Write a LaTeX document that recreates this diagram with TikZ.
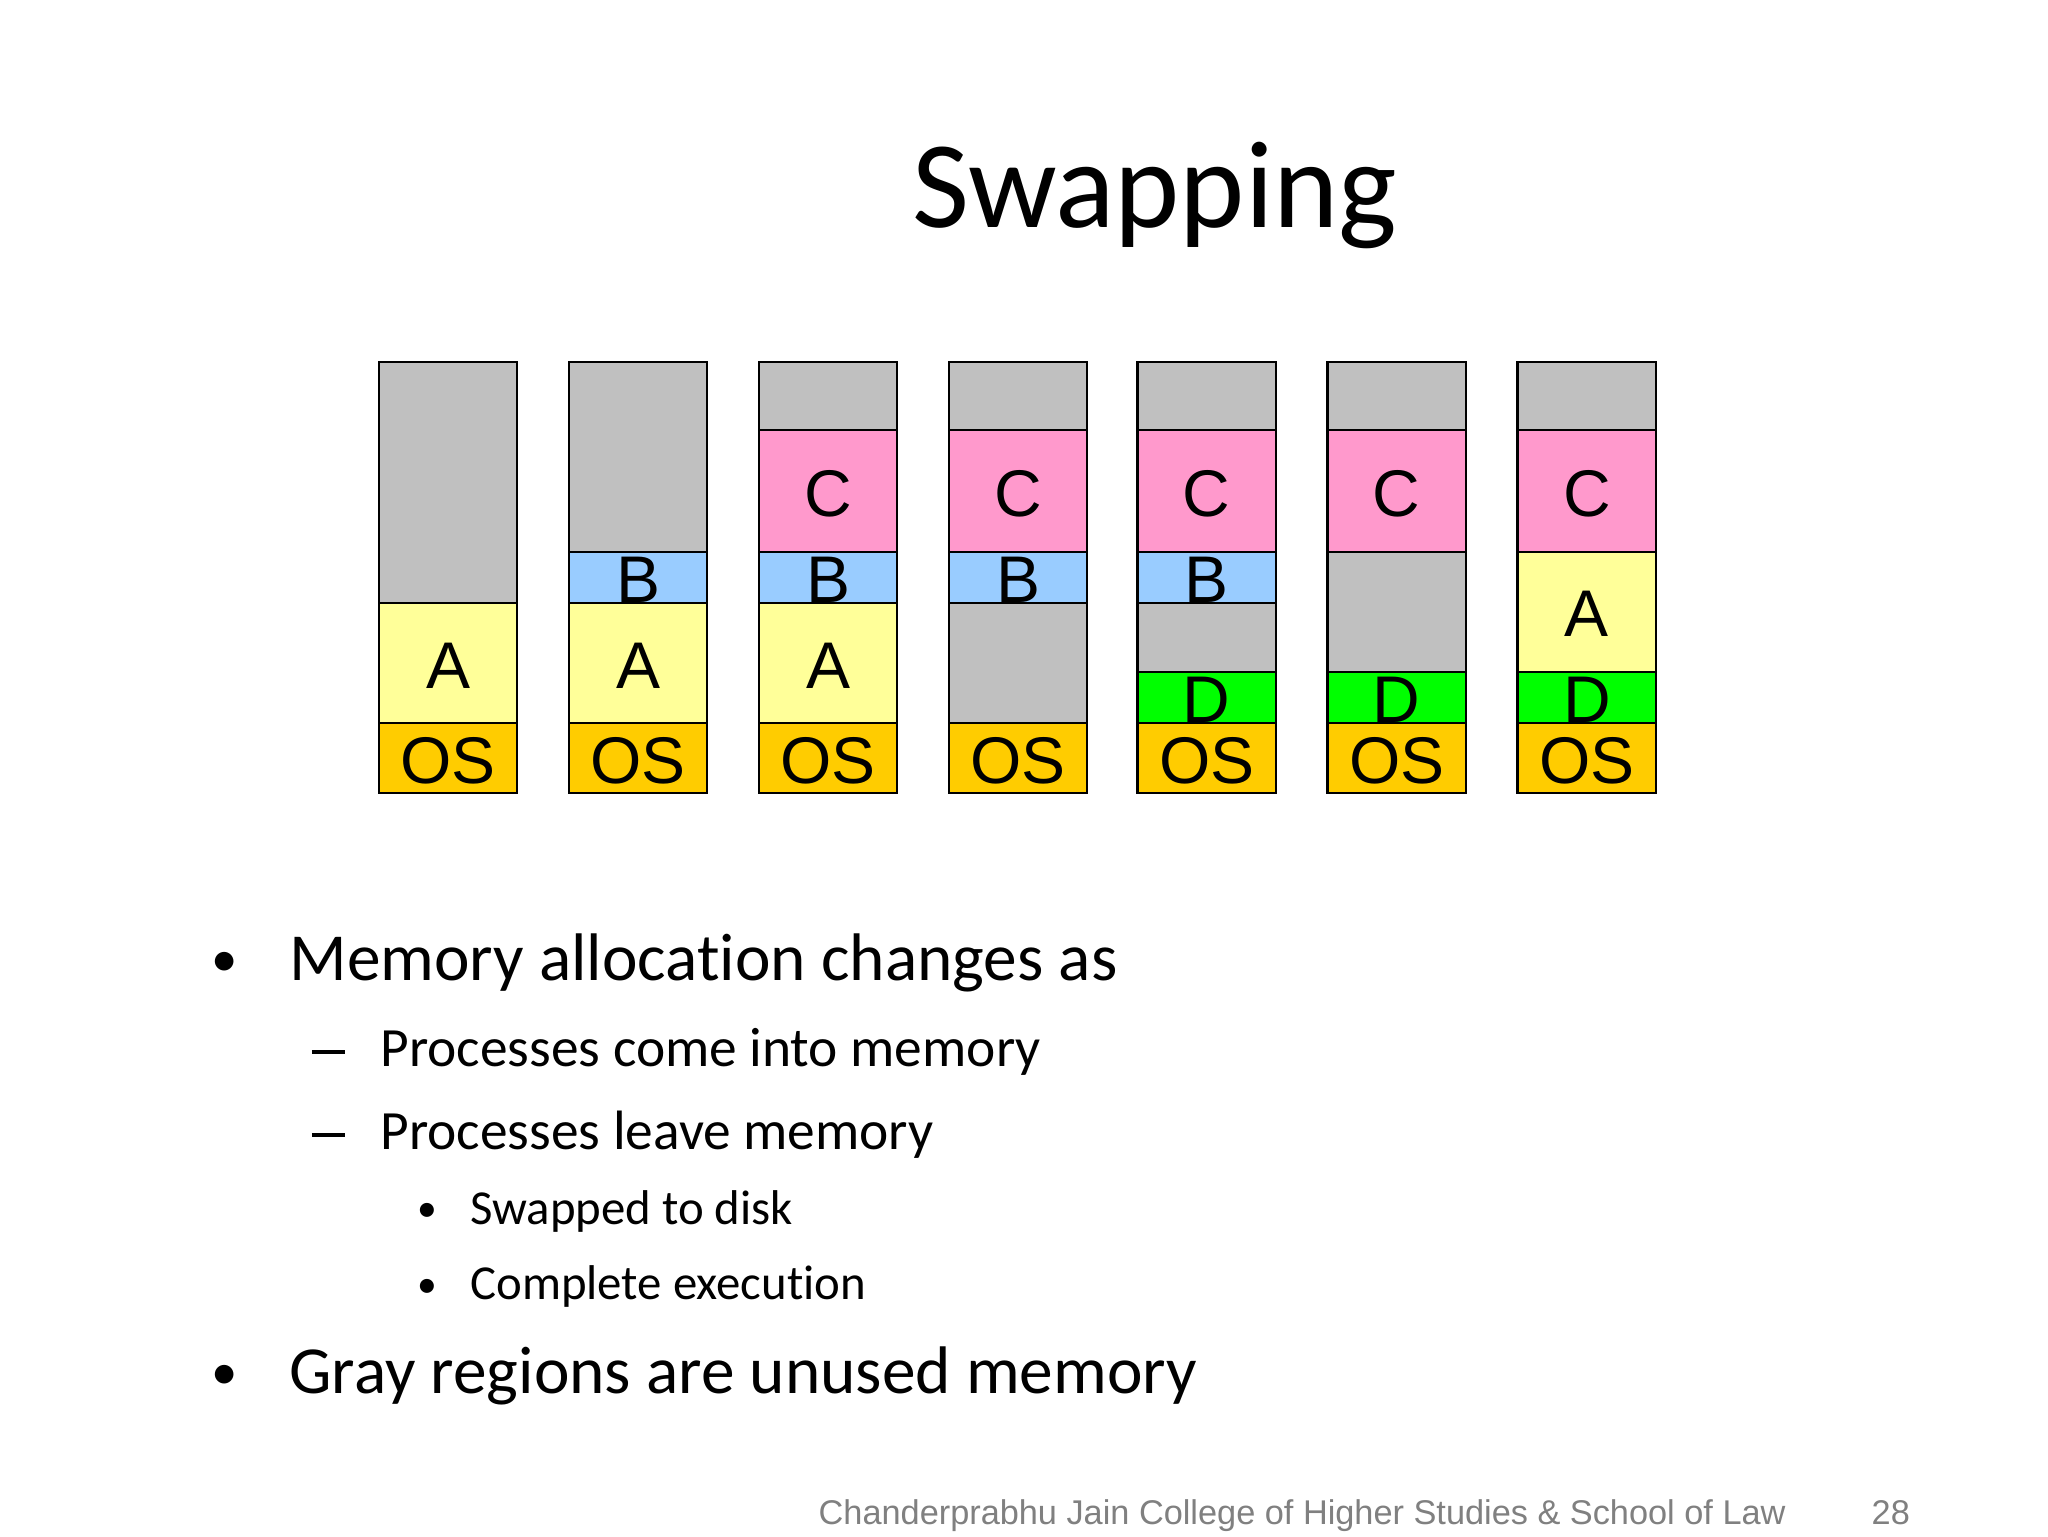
\documentclass[tikz,border=0pt]{standalone}
\usepackage{fontspec}
\setmainfont[Ligatures=CommonOff]{Carlito}
\newfontfamily\arialf{Liberation Sans}
\begin{document}
\begin{tikzpicture}[x=0.5pt,y=-0.5pt,
  mem/.style={draw=black,line width=0.8pt},
  lab/.style={font=\arialf\fontsize{25}{25}\selectfont,inner sep=0pt},
  txt/.style={anchor=base west,inner sep=0pt}]
\useasboundingbox[fill=white] (0,0) rectangle (1552,1164);
\definecolor{gr}{HTML}{C0C0C0}\definecolor{ye}{HTML}{FFFF99}
\definecolor{bl}{HTML}{99CCFF}\definecolor{pk}{HTML}{FF99CC}
\definecolor{gn}{HTML}{00FF00}\definecolor{os}{HTML}{FFCC00}
\newcommand{\seg}[5]{\fill[#4] (#1,#2) rectangle ++(105,#3-#2);
  \draw[mem] (#1,#2) rectangle ++(105,#3-#2);
  \node[lab] at (#1+52.5,{(#2+#3)/2+2}) {#5};}
\node[inner sep=0pt,font=\fontsize{47}{47}\selectfont] (title) at (875,148) {Swapping};
\seg{287}{274}{457}{gr}{}\seg{287}{457}{548}{ye}{A}\seg{287}{548}{601}{os}{OS}
\seg{431}{274}{418}{gr}{}\seg{431}{418}{457}{bl}{B}\seg{431}{457}{548}{ye}{A}\seg{431}{548}{601}{os}{OS}
\seg{575}{274}{326}{gr}{}\seg{575}{326}{418}{pk}{C}\seg{575}{418}{457}{bl}{B}\seg{575}{457}{548}{ye}{A}\seg{575}{548}{601}{os}{OS}
\seg{719}{274}{326}{gr}{}\seg{719}{326}{418}{pk}{C}\seg{719}{418}{457}{bl}{B}\seg{719}{457}{548}{gr}{}\seg{719}{548}{601}{os}{OS}
\seg{862}{274}{326}{gr}{}\seg{862}{326}{418}{pk}{C}\seg{862}{418}{457}{bl}{B}\seg{862}{457}{509}{gr}{}\seg{862}{509}{548}{gn}{D}\seg{862}{548}{601}{os}{OS}
\seg{1006}{274}{326}{gr}{}\seg{1006}{326}{418}{pk}{C}\seg{1006}{418}{509}{gr}{}\seg{1006}{509}{548}{gn}{D}\seg{1006}{548}{601}{os}{OS}
\seg{1150}{274}{326}{gr}{}\seg{1150}{326}{418}{pk}{C}\seg{1150}{418}{509}{ye}{A}\seg{1150}{509}{548}{gn}{D}\seg{1150}{548}{601}{os}{OS}
\node[txt,font=\fontsize{20}{20}\selectfont] (b1) at (160,740) {•};
\node[txt,font=\fontsize{25.5}{25.5}\selectfont] (t1) at (219,743) {Memory allocation changes as};
\node[txt,font=\fontsize{21}{21}\selectfont] (d1) at (236,808) {\rule[0.23em]{0.6em}{0.07em}};
\node[txt,font=\fontsize{21}{21}\selectfont] (t2) at (288,808) {Processes come into memory};
\node[txt,font=\fontsize{15}{15}\selectfont] (s1) at (316,926) {•};
\node[txt,font=\fontsize{18.5}{18.5}\selectfont] (t4) at (356,928) {Swapped to disk};
\node[txt,font=\fontsize{21}{21}\selectfont] (d2) at (236,871) {\rule[0.23em]{0.6em}{0.07em}};
\node[txt,font=\fontsize{21}{21}\selectfont] (t3) at (288,871) {Processes leave memory};
\node[txt,font=\fontsize{15}{15}\selectfont] (s2) at (316,983) {•};
\node[txt,font=\fontsize{18.5}{18.5}\selectfont] (t5) at (356,985) {Complete execution};
\node[txt,font=\fontsize{20}{20}\selectfont] (b2) at (160,1053) {•};
\node[txt,font=\fontsize{25.5}{25.5}\selectfont] (t6) at (219,1056) {Gray regions are unused memory};
\node[txt,font=\arialf\fontsize{13}{13}\selectfont,text=gray] (foot) at (620,1155) {Chanderprabhu Jain College of Higher Studies \& School of Law};
\node[txt,font=\arialf\fontsize{13}{13}\selectfont,text=gray] (num) at (1418,1155) {28};
\end{tikzpicture}
\end{document}
